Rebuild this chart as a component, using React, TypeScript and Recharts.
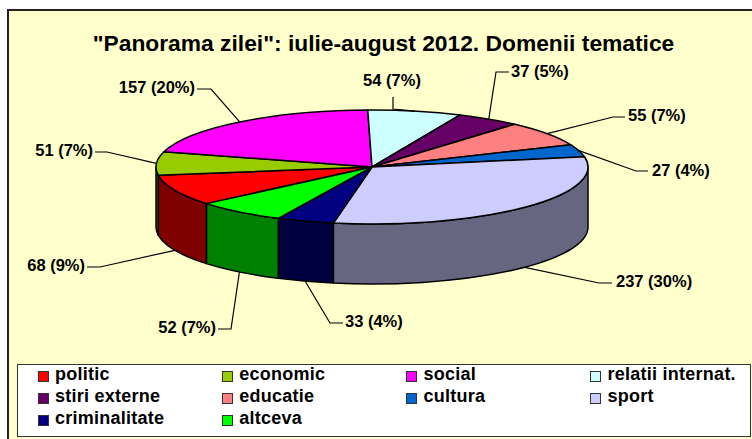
import { PieChart, Pie, Legend } from 'recharts'

const categories = ['politic', 'economic', 'social', 'relatii internat.', 'stiri externe', 'educatie', 'cultura', 'sport', 'criminalitate', 'altceva']
const values = [68, 51, 157, 54, 37, 55, 27, 237, 33, 52]
const valueLabels = ['68 (9%)', '51 (7%)', '157 (20%)', '54 (7%)', '37 (5%)', '55 (7%)', '27 (4%)', '237 (30%)', '33 (4%)', '52 (7%)']
const topColors = ['#FF0000', '#99CC00', '#FF00FF', '#CCFFFF', '#660066', '#FF8080', '#0066CC', '#CCCCFF', '#000080', '#00FF00']
const wallColors = ['#800000', '#4C6600', '#800080', '#668080', '#330033', '#804040', '#003366', '#666680', '#000040', '#008000']

const data = categories.map((name, i) => ({ name, value: values[i], fill: topColors[i] }))
const wallData = categories.map((name, i) => ({ name, value: values[i], fill: wallColors[i] }))

// leader line bends and where the text sits, same order as categories
const leaders = [
  { bend: [[100, 267], [87, 267]], x: 85, y: 265, anchor: 'end' },
  { bend: [[107, 152], [95, 152]], x: 93, y: 150, anchor: 'end' },
  { bend: [[211, 89], [197, 89]], x: 195, y: 87, anchor: 'end' },
  { bend: [[393, 109], [393, 97]], x: 392, y: 80, anchor: 'middle' },
  { bend: [[496, 72], [509, 72]], x: 511, y: 71, anchor: 'start' },
  { bend: [[613, 117], [625, 117]], x: 628, y: 115, anchor: 'start' },
  { bend: [[636, 171], [648, 171]], x: 652, y: 170, anchor: 'start' },
  { bend: [[599, 283], [612, 283]], x: 616, y: 281, anchor: 'start' },
  { bend: [[330, 323], [343, 323]], x: 345, y: 321, anchor: 'start' },
  { bend: [[231, 329], [218, 329]], x: 216, y: 327, anchor: 'end' },
]

const CX = 372
const CY = 167
const RX = 216
const SQUASH = 57 / 216
const DEPTH = 60
const RAD = Math.PI / 180

const px = (cx: number, r: number, a: number) => cx + r * Math.cos(a * RAD)
const py = (cy: number, r: number, a: number) => cy - r * SQUASH * Math.sin(a * RAD)

function TopSlice(props: any) {
  const { cx, cy, outerRadius: r, startAngle, endAngle, fill } = props
  const ry = r * SQUASH
  const large = Math.abs(startAngle - endAngle) > 180 ? 1 : 0
  const d = `M${cx} ${cy}L${px(cx, r, startAngle)} ${py(cy, r, startAngle)}A${r} ${ry} 0 ${large} 1 ${px(cx, r, endAngle)} ${py(cy, r, endAngle)}Z`
  return <path d={d} fill={fill} stroke="#000" strokeWidth={1.5} strokeLinejoin="round" />
}

// only the front of the rim shows: angles 180..220 and -140..0
function WallSlice(props: any) {
  const { cx, cy, outerRadius: r, fill } = props
  const hi = Math.max(props.startAngle, props.endAngle)
  const lo = Math.min(props.startAngle, props.endAngle)
  const from = hi > 180 ? hi : Math.min(hi, 0)
  const to = hi > 180 ? Math.max(lo, 180) : lo
  if (from <= to) return null
  const ry = r * SQUASH
  const d = `M${px(cx, r, from)} ${py(cy, r, from)}A${r} ${ry} 0 0 1 ${px(cx, r, to)} ${py(cy, r, to)}L${px(cx, r, to)} ${py(cy, r, to) + DEPTH}A${r} ${ry} 0 0 0 ${px(cx, r, from)} ${py(cy, r, from) + DEPTH}Z`
  return <path d={d} fill={fill} stroke="#000" strokeWidth={1.5} strokeLinejoin="round" />
}

function SliceLabel(props: any) {
  const { cx, cy, outerRadius: r, midAngle, index } = props
  const l = leaders[index]
  const front = Math.sin(midAngle * RAD) < 0
  const ax = px(cx, r, midAngle)
  const ay = py(cy, r, midAngle) + (front ? DEPTH : 0)
  const pts = [[ax, ay], ...l.bend].map((p) => p.join(',')).join(' ')
  return (
    <g>
      <polyline points={pts} fill="none" stroke="#000" strokeWidth={1.2} />
      <text x={l.x} y={l.y} textAnchor={l.anchor} dominantBaseline="central" fontFamily="Liberation Sans" fontWeight="bold" fontSize={16.5} fill="#000">
        {valueLabels[index]}
      </text>
    </g>
  )
}

function LegendBox(props: any) {
  const items = (props.payload || []).filter((it: any) => it.type !== 'none')
  return (
    <div style={{ position: 'relative', width: 734, height: 73, boxSizing: 'border-box', background: '#fff', border: '1.5px solid #333' }}>
      {items.map((it: any, i: number) => {
        const col = i % 4
        const row = Math.floor(i / 4)
        return (
          <div key={it.value} style={{ position: 'absolute', left: 19.5 + col * 184.2, top: -1 + row * 22, display: 'flex', fontFamily: 'Liberation Sans', fontWeight: 'bold', fontSize: 18, letterSpacing: 0.25, lineHeight: '20px', color: '#000', whiteSpace: 'nowrap' }}>
            <span style={{ width: 9, height: 9, marginTop: 7, marginRight: 6.5, border: '1.5px solid #333', background: it.color, display: 'inline-block' }} />
            {it.value}
          </div>
        )
      })}
    </div>
  )
}

export default function App() {
  return (
    <div style={{ position: 'absolute', left: 0, top: 0, width: 752, height: 439, background: '#fff', overflow: 'hidden' }}>
      <div style={{ position: 'absolute', left: 7, top: 9, width: 760, height: 440, boxSizing: 'border-box', background: '#FFFFCC', border: '2px solid #222' }} />
      <div style={{ position: 'absolute', left: 0, top: 0 }}>
        <PieChart width={752} height={439} margin={{ top: 0, right: 0, bottom: 0, left: 0 }}>
          <text x={383.5} y={43} textAnchor="middle" dominantBaseline="central" fontFamily="Liberation Sans" fontWeight="bold" fontSize={22.8} fill="#000">
            "Panorama zilei": iulie-august 2012. Domenii tematice
          </text>
          <Pie data={wallData} dataKey="value" nameKey="name" cx={CX} cy={CY} outerRadius={RX} startAngle={220} endAngle={-140} legendType="none" shape={WallSlice} stroke="none" isAnimationActive={false} />
          <Pie data={data} dataKey="value" nameKey="name" cx={CX} cy={CY} outerRadius={RX} startAngle={220} endAngle={-140} shape={TopSlice} label={SliceLabel} labelLine={false} isAnimationActive={false} />
          <Legend content={LegendBox} itemSorter={null} wrapperStyle={{ position: 'absolute', left: 17, top: 364, width: 734, height: 73 }} />
        </PieChart>
      </div>
    </div>
  )
}
